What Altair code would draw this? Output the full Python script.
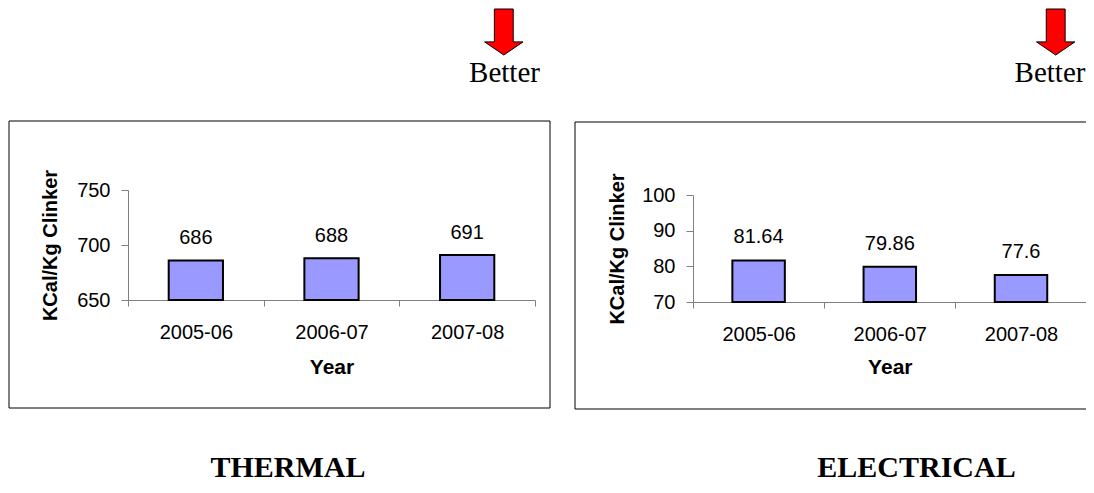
import altair as alt
import pandas as pd

# ---- data ----
years = ["2005-06", "2006-07", "2007-08"]
thermal = [686, 688, 691]
electrical = [81.64, 79.86, 77.6]
thermal_ticks = [650, 700, 750]
electrical_ticks = [70, 80, 90, 100]
y_title = "KCal/Kg Clinker"
x_title = "Year"
panel_titles = ["THERMAL", "ELECTRICAL"]
better_text = "Better"

W, H = 1078, 477
SANS = "Liberation Sans"
SERIF = "Liberation Serif"
BAR_FILL = "#9999FF"
AXIS_GREY = "#808080"
ARROW = "M-0.41,-1L0.41,-1L0.41,0.43L0.835,0.43L0,1L-0.835,0.43L-0.41,0.43Z"

df_t = pd.DataFrame({"Year": years, "Value": thermal})
df_e = pd.DataFrame({"Year": years, "Value": electrical})
one = pd.DataFrame({"k": [0]})


def panel(df, xr, yr, ydomain, yticks, xoff, yoff, ytitle_x, xtitle_y, dy):
    xscale = alt.Scale(domain=years, range=xr, paddingInner=0, paddingOuter=0)
    yscale = alt.Scale(domain=ydomain, range=yr, zero=False, nice=False)
    bars = alt.Chart(df).mark_bar(
        fill=BAR_FILL, stroke="black", strokeWidth=2,
        width=alt.RelativeBandSize(0.4),
    ).encode(
        x=alt.X("Year:N", scale=xscale, sort=years, axis=alt.Axis(
            orient="bottom", offset=xoff, tickBand="extent", title=x_title,
            titleY=xtitle_y, titleBaseline="middle", titleFont=SANS,
            titleFontSize=21, titleFontWeight="bold", titleColor="black",
            labelAngle=0, labelPadding=16, labelFont=SANS, labelFontSize=20,
            labelColor="black", tickSize=6, tickColor=AXIS_GREY,
            domainColor=AXIS_GREY, grid=False)),
        y=alt.Y("Value:Q", scale=yscale, axis=alt.Axis(
            orient="left", offset=yoff, values=yticks, title=y_title,
            titleX=ytitle_x, titleBaseline="middle", titleAngle=270,
            titleFont=SANS, titleFontSize=20, titleFontWeight="bold",
            titleColor="black", labelFont=SANS, labelFontSize=20,
            labelColor="black", labelPadding=11, tickSize=7,
            tickColor=AXIS_GREY, domainColor=AXIS_GREY, grid=False)),
        y2=alt.datum(ydomain[0]),
    )
    labels = alt.Chart(df).mark_text(
        dy=dy, font=SANS, fontSize=20, color="black", baseline="alphabetic"
    ).encode(
        x=alt.X("Year:N", scale=xscale, sort=years, axis=None),
        y=alt.Y("Value:Q", scale=yscale, axis=None),
        text=alt.Text("Value:N"),
    )
    return bars, labels


tb, tl = panel(df_t, [120, 527], [292, 182], [650, 750], thermal_ticks,
               -(H - 292), -120, -78, 67, -16)
eb, el = panel(df_e, [685, 1078.6], [294, 187], [70, 100], electrical_ticks,
               -(H - 294), -685, -76, 65, -17)


def box(x1, x2, y1, y2):
    return alt.Chart(one).mark_rect(
        fill="transparent", stroke="black", strokeWidth=1
    ).encode(x=alt.value(x1), x2=alt.value(x2), y=alt.value(y1), y2=alt.value(y2))


def arrow(x, y):
    return alt.Chart(one).mark_point(
        shape=ARROW, size=2116, filled=True, fill="#FF0000", stroke="black",
        strokeWidth=1, opacity=1
    ).encode(x=alt.value(x), y=alt.value(y))


def label(txt, x, y, size, weight="normal"):
    return alt.Chart(one).mark_text(
        text=txt, font=SERIF, fontSize=size, fontWeight=weight, color="black",
        align="center", baseline="alphabetic"
    ).encode(x=alt.value(x), y=alt.value(y))


layers = [
    box(1, 542, 113, 400),
    box(567, 1100, 114, 401),
    tb, tl, eb, el,
    arrow(495.8, 24),
    arrow(1047.7, 24),
    label(better_text, 496.5, 74, 29),
    label(better_text, 1042, 74, 29),
    label(panel_titles[0], 280, 469, 30, "bold"),
    label(panel_titles[1], 908.5, 469, 30, "bold"),
]

chart = alt.layer(*layers).resolve_scale(
    x="independent", y="independent"
).properties(
    width=W, height=H, autosize=alt.AutoSizeParams(type="none"), padding=0
).configure_view(stroke=None)

chart.save("out.html", embed_options={"renderer": "svg", "actions": False})
